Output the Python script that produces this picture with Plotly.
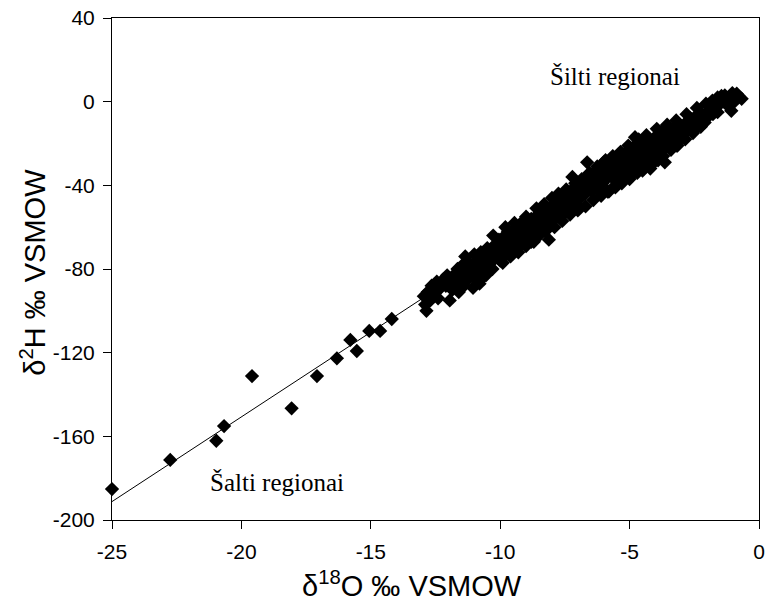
import plotly.graph_objects as go

# δ18O (x) and δ2H (y) sample values
d18O = [
    -25.0, -22.75, -20.97, -20.67, -19.59, -18.06, -17.08, -16.31, -15.79, -15.54, -15.06, -14.64, -14.19,
    -12.95, -12.9, -12.85, -12.8, -12.7, -12.65, -12.6, -12.5, -12.45, -12.4, -12.3, -12.2, -12.1, -11.95, -12.05,
    -11.9, -11.85, -11.8, -11.7, -11.65, -11.6, -11.5, -11.45, -11.4, -11.35, -11.3, -11.25, -11.2, -11.1, -11.05, -11.0, -11.0,
    -10.95, -10.9, -10.85, -10.8, -10.75, -10.7, -10.6, -10.55, -10.5, -10.45, -10.4, -10.35, -10.27, -10.25, -10.2, -10.1, -10.05, -10.0,
    -9.95, -9.9, -9.8, -9.75, -9.7, -9.6, -9.55, -9.5, -9.4, -9.35, -9.3, -9.2, -9.19, -9.1, -9.05,
    -8.95, -8.9, -8.8, -8.75, -8.7, -8.6, -8.55, -8.5, -8.4, -8.35, -8.3, -8.2, -8.12, -8.1, -8.05, -8.0,
    -7.95, -7.9, -7.85, -7.8, -7.7, -7.65, -7.6, -7.5, -7.45, -7.4, -7.3, -7.25, -7.21, -7.15, -7.1, -7.05, -7.0,
    -6.95, -6.9, -6.8, -6.75, -6.7, -6.64, -6.6, -6.5, -6.45, -6.4, -6.3, -6.25, -6.2, -6.1, -6.05, -6.0,
    -5.93, -5.9, -5.8, -5.75, -5.7, -5.6, -5.55, -5.5, -5.45, -5.4, -5.3, -5.25, -5.2, -5.15, -5.1, -5.05, -5.0,
    -4.95, -4.9, -4.85, -4.8, -4.79, -4.75, -4.7, -4.6, -4.55, -4.5, -4.45, -4.4, -4.35, -4.3, -4.25, -4.2, -4.15, -4.1, -4.05, -4.02,
    -3.95, -3.9, -3.8, -3.75, -3.7, -3.64, -3.6, -3.5, -3.45, -3.4, -3.3, -3.25, -3.2, -3.1, -3.05, -3.0,
    -2.95, -2.9, -2.8, -2.7, -2.65, -2.6, -2.5, -2.45, -2.4, -2.3, -2.2, -2.18, -2.1, -2.0,
    -1.95, -1.85, -1.78, -1.7, -1.6, -1.5, -1.45, -1.35, -1.32, -1.2, -1.1, -1.07, -1.03, -0.95, -0.86, -0.8, -0.67,
    -10.6, -10.3, -9.9, -9.6, -9.3, -9.0, -8.8, -8.5, -8.25, -7.9, -7.6, -7.3, -7.0, -6.7, -6.4,
    -6.1, -5.85, -5.55, -5.3, -5.0, -4.7, -4.45, -4.2, -3.9, -3.7, -3.4, -3.15, -2.85, -2.55, -2.25,
    -9.8, -9.45, -9.0, -8.6, -8.3, -8.0, -7.75, -7.45, -7.1, -6.85, -6.55, -6.25, -6.0,
    -5.65, -5.35, -5.05, -4.65, -4.35, -3.95, -3.55, -3.2, -2.8, -2.4, -2.05, -1.8, -1.6,
]
d2H = [
    -185.2, -171.3, -162.1, -155.1, -131.2, -146.6, -131.2, -122.7, -113.9, -119.2, -109.6, -109.6, -103.9,
    -93, -97, -100, -91, -95, -88, -92, -90, -86, -94, -89, -85, -88, -95, -83,
    -86, -90, -83, -87, -80, -91, -84, -78, -88, -74, -81, -85, -77, -82, -89, -79, -73,
    -85, -76, -81, -87, -72, -78, -74, -83, -70, -77, -73, -80, -64, -69, -75, -71, -66, -76,
    -70, -65, -73, -68, -62, -66, -71, -63, -67, -60, -70, -64, -58, -61, -67,
    -59, -64, -56, -61, -67, -58, -54, -62, -57, -52, -60, -55, -66, -51, -58, -54,
    -49, -56, -50, -53, -47, -55, -50, -45, -52, -48, -43, -50, -36, -46, -41, -49, -44,
    -39, -46, -42, -37, -44, -29, -40, -35, -43, -38, -33, -41, -36, -31, -39, -34,
    -28, -37, -43, -32, -36, -29, -40, -33, -27, -36, -30, -38, -25, -33, -28, -35, -31,
    -24, -29, -34, -21, -17, -27, -31, -23, -28, -33, -20, -26, -30, -22, -27, -32, -19, -24, -29, -17,
    -22, -26, -19, -14, -23, -29, -18, -21, -15, -19, -13, -17, -21, -14, -18, -12,
    -16, -11, -14, -11, -8, -13, -10, -7, -12, -9, -6, -8, -10, -5,
    -7, -4, -6, -3, -5, -1, 2.7, 0, 3, -2, 1, -4.4, 4.1, 0, 3.8, 2.7, 1.4,
    -83, -80, -77, -74, -72, -69, -67, -64, -62, -60, -57, -54, -52, -50, -47,
    -45, -43, -41, -39, -37, -34, -32, -30, -28, -26, -23, -21, -18, -15, -12,
    -60, -58, -55, -51, -49, -46, -44, -42, -39, -37, -34, -31, -29,
    -26, -24, -21, -18, -16, -13, -11, -9, -6, -3, -1, 0.5, 2,
]

# regression line end points
line_x = [-25.0, -0.8]
line_y = [-191.2, 4.8]

x_ticks = [-25, -20, -15, -10, -5, 0]
x_tick_text = ["-25", "-20", "-15", "-10", "-5", "0"]
y_ticks = [-200, -160, -120, -80, -40, 0, 40]
y_tick_text = ["-200", "-160", "-120", "-80", "-40", "0", "40"]

fig = go.Figure()
fig.add_trace(go.Scatter(x=line_x, y=line_y, mode="lines",
                         line=dict(color="black", width=1), showlegend=False,
                         cliponaxis=False))
fig.add_trace(go.Scatter(x=d18O, y=d2H, mode="markers",
                         marker=dict(symbol="diamond", size=11, color="black",
                                     line=dict(width=0)),
                         showlegend=False, cliponaxis=False))

axis_common = dict(showline=True, linecolor="black", linewidth=1, mirror=True,
                   ticks="outside", ticklen=8, tickcolor="black", tickwidth=1,
                   showgrid=False, zeroline=False, ticklabeloverflow="allow",
                   tickfont=dict(family="Liberation Sans", size=21, color="black"))

fig.update_xaxes(range=[-25, 0], tickvals=x_ticks, ticktext=x_tick_text,
                 ticklabelstandoff=5, **axis_common)
fig.update_yaxes(range=[-200, 40], tickvals=y_ticks, ticktext=y_tick_text,
                 ticklabelstandoff=4, **axis_common)

fig.update_layout(
    width=769, height=601,
    margin=dict(l=112, r=4, t=18, b=81),
    plot_bgcolor="white", paper_bgcolor="white",
    annotations=[
        dict(text="δ<sup>18</sup>O ‰ VSMOW", xref="paper", yref="paper",
             x=0.464, y=-0.128, xanchor="center", yanchor="middle",
             showarrow=False, font=dict(family="Liberation Sans", size=29, color="black")),
        dict(text="δ<sup>2</sup>H ‰ VSMOW", xref="paper", yref="paper",
             x=-0.1225, y=0.494, xanchor="center", yanchor="middle", textangle=-90,
             showarrow=False, font=dict(family="Liberation Sans", size=29, color="black")),
        dict(text="Šilti regionai", x=-5.55, y=12.3, xref="x", yref="y",
             xanchor="center", yanchor="middle", showarrow=False,
             font=dict(family="Liberation Serif", size=25, color="black")),
        dict(text="Šalti regionai", x=-18.63, y=-181.8, xref="x", yref="y",
             xanchor="center", yanchor="middle", showarrow=False,
             font=dict(family="Liberation Serif", size=25, color="black")),
    ],
)

fig.write_html("out.html")
